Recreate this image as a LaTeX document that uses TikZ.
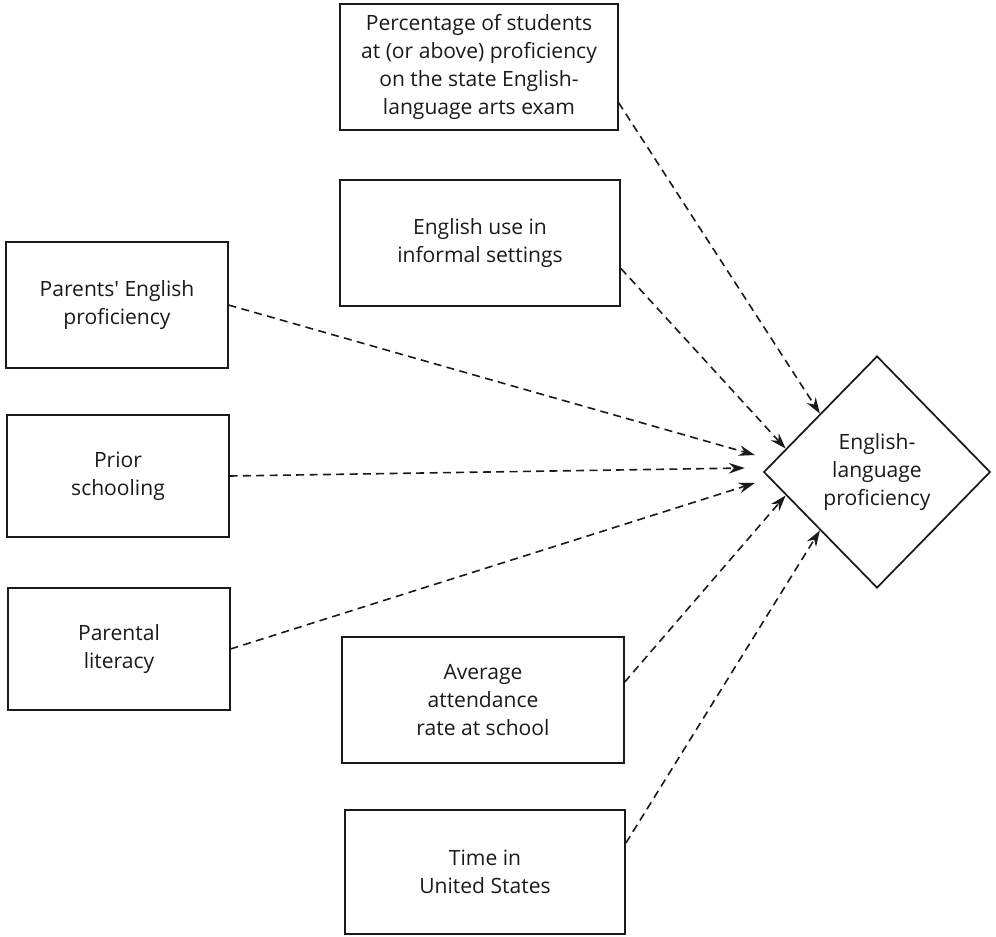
\documentclass[tikz,border=0pt]{standalone}
\usepackage{fontspec}
\setmainfont{Open Sans}
\usetikzlibrary{arrows.meta,positioning,calc,shapes.geometric}
\definecolor{Ink}{HTML}{1A1A1A}

\begin{document}
\begin{tikzpicture}[x=0.75pt,y=-0.75pt,>={Stealth[length=12pt,width=8pt]},
  varbox/.style={draw=Ink,line width=1.3pt,align=center,inner sep=0pt,
    font=\fontsize{15.8}{21}\selectfont,text=Ink},
  outcome/.style={diamond,draw=Ink,line width=1.3pt,align=center,inner sep=0pt,
    minimum width=170pt,minimum height=174pt,font=\fontsize{15.8}{21}\selectfont,text=Ink},
  link/.style={->,dashed,dash pattern=on 6pt off 4pt,Ink,line width=1.2pt}]
\useasboundingbox (0,0) rectangle (996,936);
% predictors
\node[varbox,minimum width=208pt,minimum height=94pt] (pct) at (479,67)
  {Percentage of students\\at (or above) proficiency\\on the state English-\\language arts exam};
\node[varbox,minimum width=210pt,minimum height=94pt] (use) at (480,243)
  {English use in\\informal settings};
\node[varbox,minimum width=166pt,minimum height=94pt] (par) at (117,305)
  {Parents\textquotesingle\ English\\proficiency};
\node[varbox,minimum width=166pt,minimum height=92pt] (pri) at (118,476)
  {Prior\\schooling};
\node[varbox,minimum width=166pt,minimum height=92pt] (lit) at (119,649)
  {Parental\\literacy};
\node[varbox,minimum width=211pt,minimum height=94pt] (att) at (483,700)
  {Average\\attendance\\rate at school};
\node[varbox,minimum width=210pt,minimum height=93pt] (tim) at (485,872)
  {Time in\\United States};
% outcome
\node[outcome] (ell) at (877,472) {English-\\language\\proficiency};
% arrow tips
\coordinate (tipP) at ($(ell.west)+(-8,-17)$);
\coordinate (tipS) at ($(ell.west)+(-18,-4)$);
\coordinate (tipL) at ($(ell.west)+(-8,11)$);
% links
\draw[link] ($(pct.south east)!0.22!(pct.north east)$) -- (ell.north west);
\draw[link] ($(use.south east)!0.3!(use.north east)$) -- ($(ell.west)!0.2!(ell.north)$);
\draw[link] (par.east) -- (tipP);
\draw[link] (pri.east) -- (tipS);
\draw[link] (lit.east) -- (tipL);
\draw[link] ($(att.south east)!0.64!(att.north east)$) -- ($(ell.west)!0.2!(ell.south)$);
\draw[link] ($(tim.south east)!0.73!(tim.north east)$) -- (ell.south west);
\end{tikzpicture}
\end{document}
